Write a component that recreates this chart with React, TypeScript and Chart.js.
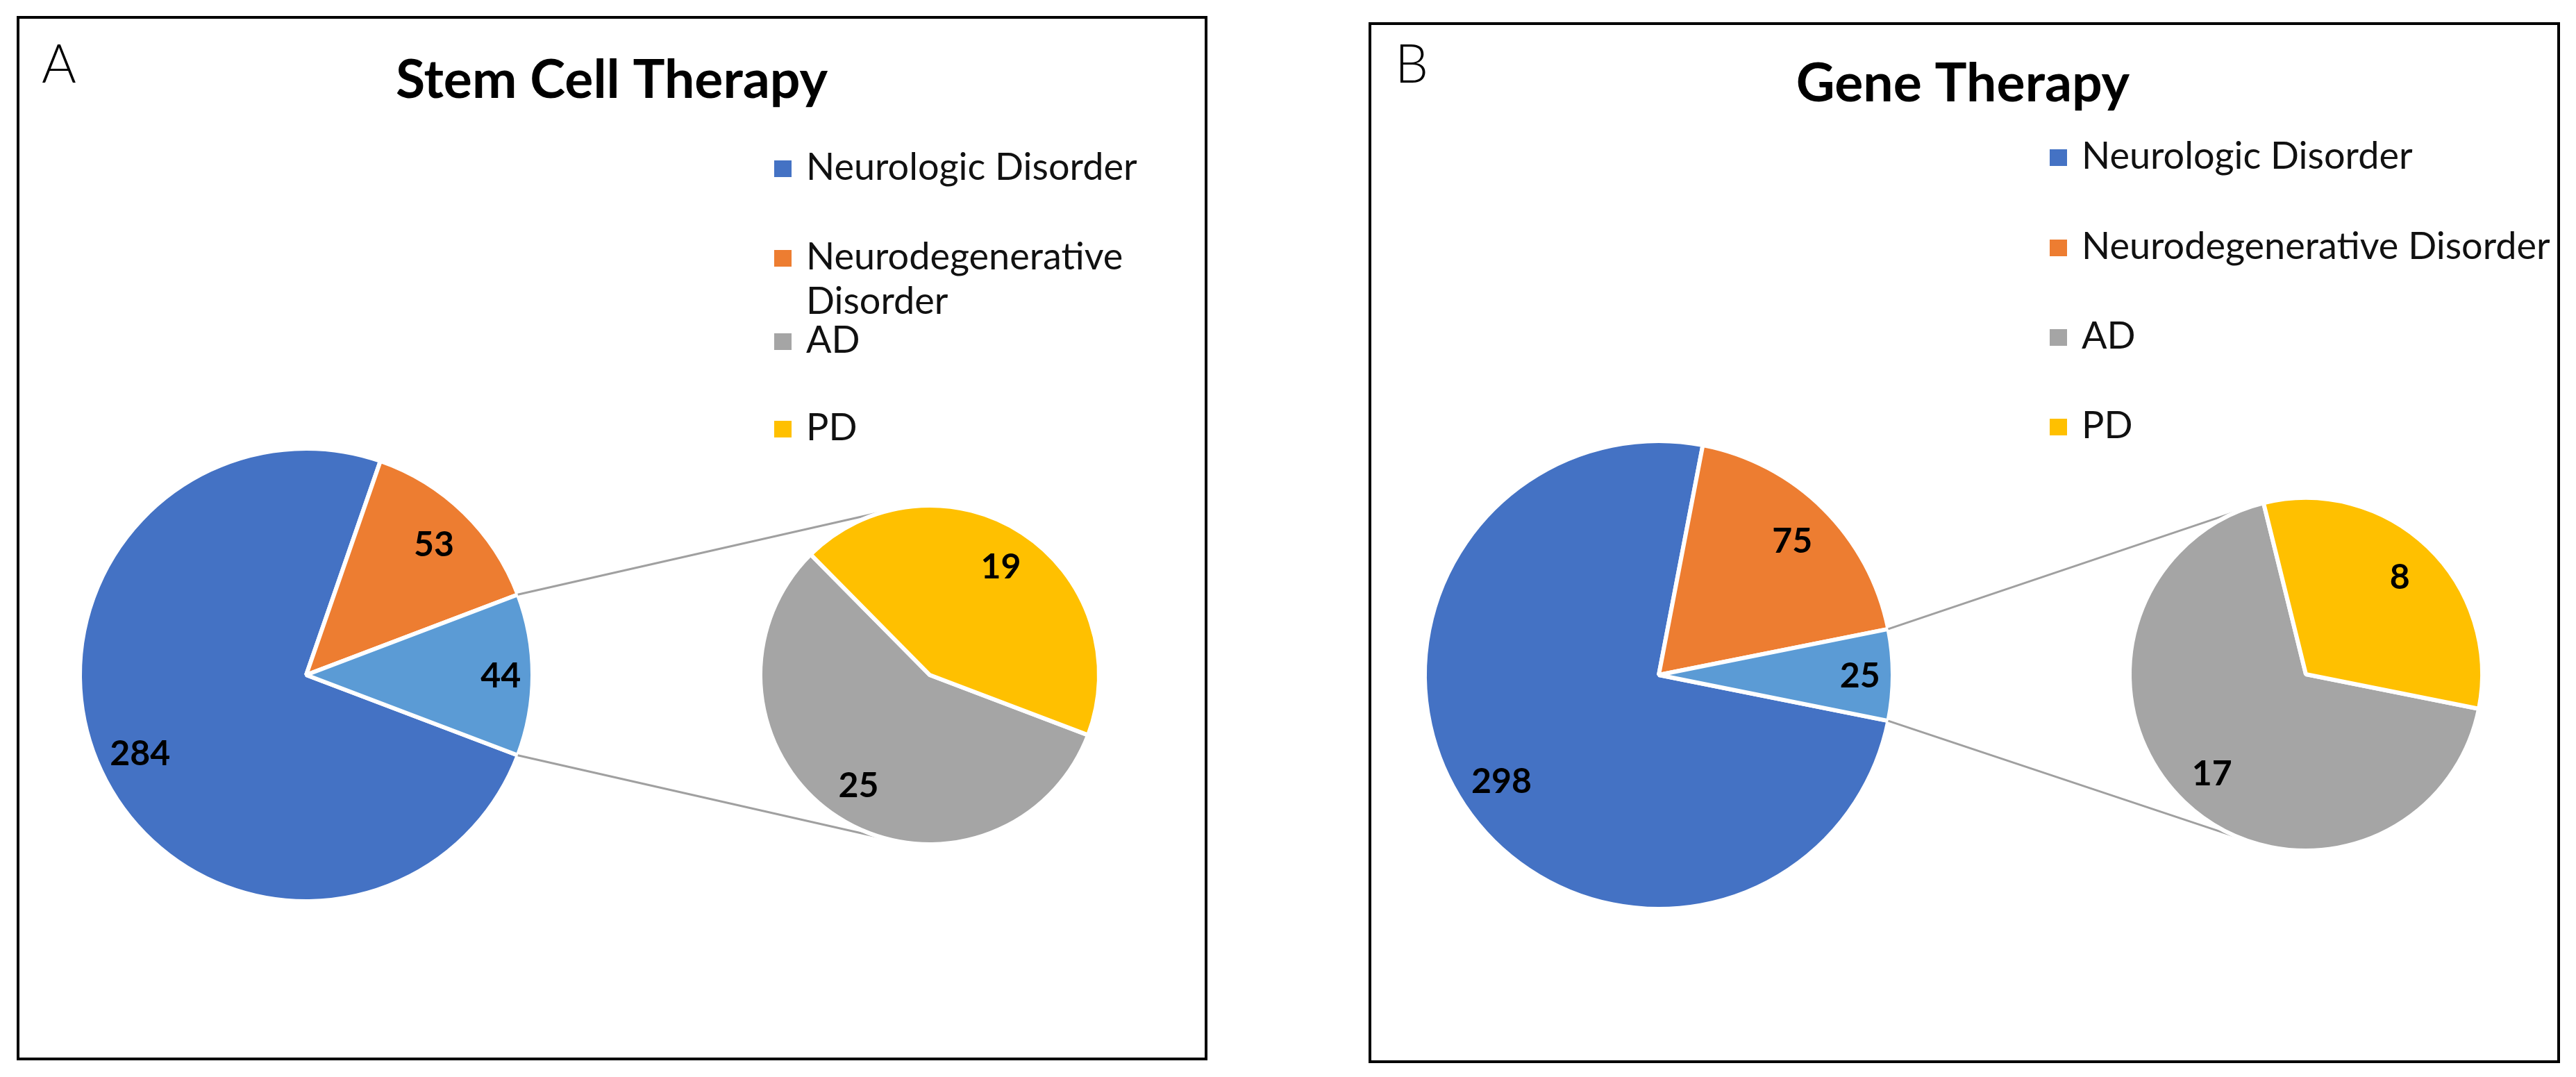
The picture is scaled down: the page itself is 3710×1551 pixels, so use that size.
import React, { useEffect, useRef } from "react";
import { Chart, registerables } from "chart.js";

Chart.register(...registerables);

// ---------------- data ----------------
const categories = ["Neurologic Disorder", "Neurodegenerative Disorder", "AD", "PD"];
const stemCellValues = [284, 53, 25, 19];
const geneTherapyValues = [298, 75, 17, 8];
const panelTitles = ["Stem Cell Therapy", "Gene Therapy"];
const panelLetters = ["A", "B"];

// ---------------- styles / layout ----------------
const categoryColors = ["#4472C4", "#ED7D31", "#A5A5A5", "#FFC000"];
const otherColor = "#5B9BD5";
const connectorColor = "#A0A0A0";
const W = 3710;
const H = 1551;
const FONT = "Lato, 'Open Sans', sans-serif";

const layouts = [
  {
    box: { x: 24, y: 23, w: 1715, h: 1504 },
    main: { cx: 441, cy: 972, r: 326 },
    sec: { cx: 1339, cy: 972, r: 244 },
    titleX: 881,
    titleY: 141,
    letterX: 60,
    letterY: 119,
    legendX: 1115,
    legendRows: [259, 388, 508, 634],
    legendMaxW: 520,
  },
  {
    box: { x: 1971, y: 32, w: 1716, h: 1499 },
    main: { cx: 2389, cy: 972, r: 337 },
    sec: { cx: 3321, cy: 971, r: 254 },
    titleX: 2827,
    titleY: 146,
    letterX: 2009,
    letterY: 119,
    legendX: 2952,
    legendRows: [243, 373, 502, 631],
    legendMaxW: 900,
  },
];

const panelValues = [stemCellValues, geneTherapyValues];

function paddingFor(c: { cx: number; cy: number; r: number }) {
  const half = c.r + 20;
  return {
    left: c.cx - half,
    right: W - c.cx - half,
    top: c.cy - half,
    bottom: H - c.cy - half,
  };
}

function sliceLabelPlugin(far: number, near: number) {
  return {
    id: "sliceLabels",
    afterDatasetsDraw(chart: any) {
      const ctx = chart.ctx;
      const meta = chart.getDatasetMeta(0);
      const data = chart.data.datasets[0].data;
      ctx.save();
      ctx.font = `bold 50px ${FONT}`;
      ctx.fillStyle = "#000";
      ctx.textAlign = "center";
      ctx.textBaseline = "middle";
      meta.data.forEach((el: any, i: number) => {
        const p = el.getProps(["x", "y", "startAngle", "endAngle", "outerRadius"], true);
        const span = p.endAngle - p.startAngle;
        const f = span < Math.PI / 4 ? near : far;
        const mid = (p.startAngle + p.endAngle) / 2;
        ctx.fillText(
          String(data[i]),
          p.x + Math.cos(mid) * p.outerRadius * f,
          p.y + Math.sin(mid) * p.outerRadius * f + 2
        );
      });
      ctx.restore();
    },
  };
}

function decorPlugin(idx: number) {
  const L = layouts[idx];
  return {
    id: "decor",
    afterDraw(chart: any) {
      const ctx = chart.ctx;
      ctx.save();
      // title
      ctx.fillStyle = "#000";
      ctx.textAlign = "center";
      ctx.textBaseline = "alphabetic";
      ctx.font = `bold 77px ${FONT}`;
      ctx.fillText(panelTitles[idx], L.titleX, L.titleY);
      // panel letter
      ctx.textAlign = "left";
      ctx.font = `300 76px ${FONT}`;
      ctx.fillText(panelLetters[idx], L.letterX, L.letterY);
      // legend
      ctx.font = `54px ${FONT}`;
      categories.forEach((name, i) => {
        const base = L.legendRows[i];
        ctx.fillStyle = categoryColors[i];
        ctx.fillRect(L.legendX, base - 28, 25, 24);
        ctx.fillStyle = "#111";
        const words = name.split(" ");
        const lines: string[] = [];
        let cur = "";
        words.forEach((w) => {
          const t = cur ? cur + " " + w : w;
          if (cur && ctx.measureText(t).width > L.legendMaxW) {
            lines.push(cur);
            cur = w;
          } else cur = t;
        });
        if (cur) lines.push(cur);
        lines.forEach((ln, k) => ctx.fillText(ln, L.legendX + 46, base + k * 64));
      });
      ctx.restore();
    },
  };
}

function connectorPlugin(getMain: () => any) {
  return {
    id: "connectors",
    beforeDatasetsDraw(chart: any) {
      const main = getMain();
      if (!main) return;
      const other = main.getDatasetMeta(0).data[2];
      const sec = chart.getDatasetMeta(0).data[0];
      if (!other || !sec) return;
      const o = other.getProps(["x", "y", "startAngle", "endAngle", "outerRadius"], true);
      const s = sec.getProps(["x", "y", "outerRadius"], true);
      const ctx = chart.ctx;
      ctx.save();
      ctx.strokeStyle = connectorColor;
      ctx.lineWidth = 3;
      const ends = [o.startAngle, o.endAngle];
      ends.forEach((a: number, k: number) => {
        const px = o.x + Math.cos(a) * o.outerRadius;
        const py = o.y + Math.sin(a) * o.outerRadius;
        const dx = px - s.x;
        const dy = py - s.y;
        const d = Math.hypot(dx, dy);
        const theta = Math.atan2(dy, dx);
        const alpha = Math.acos(Math.min(1, s.outerRadius / d));
        const t = k === 0 ? theta + alpha : theta - alpha;
        const tx = s.x + Math.cos(t) * s.outerRadius;
        const ty = s.y + Math.sin(t) * s.outerRadius;
        ctx.beginPath();
        ctx.moveTo(px, py);
        ctx.lineTo(tx, ty);
        ctx.stroke();
      });
      ctx.restore();
    },
  };
}

export default function App() {
  const refs = [useRef<HTMLCanvasElement>(null), useRef<HTMLCanvasElement>(null), useRef<HTMLCanvasElement>(null), useRef<HTMLCanvasElement>(null)];

  useEffect(() => {
    const charts: Chart[] = [];
    [0, 1].forEach((idx) => {
      const L = layouts[idx];
      const vals = panelValues[idx];
      const otherVal = vals[2] + vals[3];
      const mainData = [vals[0], vals[1], otherVal];
      const total = mainData.reduce((a, b) => a + b, 0);
      const halfDeg = (otherVal / total) * 180;
      const rotation = 90 + halfDeg;

      const mainChart = new Chart(refs[idx * 2].current as HTMLCanvasElement, {
        type: "pie",
        data: {
          labels: [categories[0], categories[1], "Other"],
          datasets: [
            {
              data: mainData,
              backgroundColor: [categoryColors[0], categoryColors[1], otherColor],
              borderColor: "#FFFFFF",
              borderWidth: 6,
            },
          ],
        },
        options: {
          responsive: false,
          animation: false,
          events: [],
          rotation,
          radius: L.main.r,
          layout: { padding: paddingFor(L.main) },
          plugins: { legend: { display: false }, tooltip: { enabled: false }, title: { display: false } },
        } as any,
        plugins: [sliceLabelPlugin(0.81, 0.86), decorPlugin(idx)],
      });
      charts.push(mainChart);

      const secChart = new Chart(refs[idx * 2 + 1].current as HTMLCanvasElement, {
        type: "pie",
        data: {
          labels: [categories[2], categories[3]],
          datasets: [
            {
              data: [vals[2], vals[3]],
              backgroundColor: [categoryColors[2], categoryColors[3]],
              borderColor: "#FFFFFF",
              borderWidth: 6,
            },
          ],
        },
        options: {
          responsive: false,
          animation: false,
          events: [],
          rotation,
          radius: L.sec.r,
          layout: { padding: paddingFor(L.sec) },
          plugins: { legend: { display: false }, tooltip: { enabled: false }, title: { display: false } },
        } as any,
        plugins: [connectorPlugin(() => mainChart), sliceLabelPlugin(0.77, 0.77)],
      });
      charts.push(secChart);
    });
    return () => charts.forEach((c) => c.destroy());
  }, []);

  const canvasStyle: React.CSSProperties = { position: "absolute", left: 0, top: 0, width: W, height: H };

  return (
    <div style={{ position: "absolute", left: 0, top: 0, width: W, height: H, background: "#fff", overflow: "hidden" }}>
      {layouts.map((L, i) => (
        <div
          key={"box" + i}
          style={{
            position: "absolute",
            left: L.box.x,
            top: L.box.y,
            width: L.box.w,
            height: L.box.h,
            border: "4px solid #000",
            boxSizing: "border-box",
          }}
        />
      ))}
      {refs.map((r, i) => (
        <canvas key={i} ref={r} width={W} height={H} style={canvasStyle} />
      ))}
    </div>
  );
}
